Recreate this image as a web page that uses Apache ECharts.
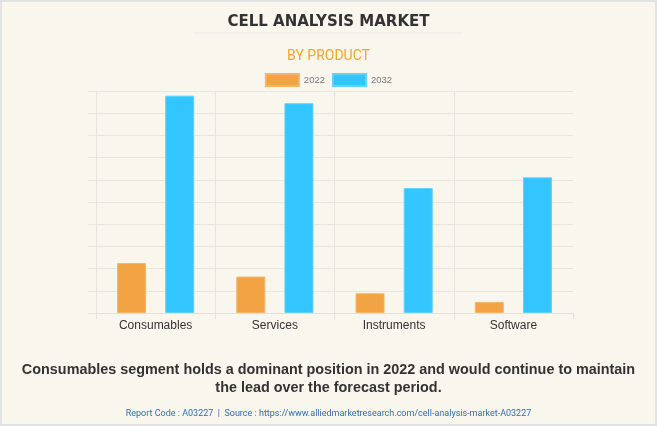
<!DOCTYPE html>
<html><head><meta charset="utf-8">
<script src="https://cdn.jsdelivr.net/npm/echarts@6/dist/echarts.min.js"></script>
<style>html,body{margin:0;padding:0;background:#F9F6EE;}#c{width:657px;height:426px;}</style>
</head><body><div id="c"></div>
<script>
var categories = ['Consumables', 'Services', 'Instruments', 'Software'];
var seriesNames = ['2022', '2032'];
var values2022 = [2.25, 1.64, 0.89, 0.50];
var values2032 = [9.79, 9.45, 5.63, 6.11];
var titleText = 'CELL ANALYSIS MARKET';
var subtitleText = 'BY PRODUCT';
var captionLines = ['Consumables segment holds a dominant position in 2022 and would continue to maintain', 'the lead over the forecast period.'];
var footerText = 'Report Code : A03227  |  Source : https://www.alliedmarketresearch.com/cell-analysis-market-A03227';

var chart = echarts.init(document.getElementById('c'), null, {renderer: 'canvas'});
chart.setOption({
  backgroundColor: '#F9F6EE',
  animation: false,
  title: [
    {text: titleText, left: 'center', top: 10, textStyle: {fontFamily: 'DejaVu Sans', fontWeight: 'bold', fontSize: 15, color: '#333'}},
    {text: subtitleText, left: 'center', top: 44, textStyle: {fontFamily: 'Roboto', fontWeight: 'normal', fontSize: 14, color: '#F5A623'}},
    {text: captionLines.join('\n'), left: 'center', top: 356, textStyle: {fontFamily: 'Liberation Sans', fontWeight: 'bold', fontSize: 14.4, lineHeight: 18, color: '#333', align: 'center'}},
    {text: footerText, left: 'center', top: 404, textStyle: {fontFamily: 'Roboto', fontWeight: 'normal', fontSize: 9, color: '#2F6DB5'}}
  ],
  legend: {
    data: seriesNames, top: 68, left: 'center', itemWidth: 33, itemHeight: 12, itemGap: 7, icon: 'rect',
    textStyle: {fontFamily: 'Liberation Sans', fontSize: 9.5, color: '#777'}
  },
  graphic: [
    {type: 'rect', shape: {x: 1, y: 1, width: 655, height: 424}, style: {fill: 'none', stroke: '#E2E2E2', lineWidth: 2}, silent: true},
    {type: 'line', shape: {x1: 193, y1: 33, x2: 463, y2: 33}, style: {stroke: '#ECE9E2', lineWidth: 1}, silent: true}
  ],
  grid: {left: 96, right: 84, top: 91, bottom: 113, containLabel: false},
  xAxis: {
    type: 'category', data: categories,
    axisLine: {show: true, lineStyle: {color: '#E3E0D9'}},
    axisTick: {show: true, length: 6, lineStyle: {color: '#E3E0D9'}},
    axisLabel: {fontFamily: 'Liberation Sans', fontSize: 12, color: '#333', margin: 7},
    splitLine: {show: true, showMaxLine: false, lineStyle: {color: '#E8E5DE'}}
  },
  yAxis: {
    type: 'value', min: 0, max: 10, interval: 1,
    axisLine: {show: false},
    axisTick: {show: true, length: 8, lineStyle: {color: '#E8E5DE'}},
    axisLabel: {show: false},
    splitLine: {show: true, lineStyle: {color: '#E8E5DE'}}
  },
  series: [
    {name: seriesNames[0], type: 'bar', data: values2022, barWidth: 29, barGap: '66%',
     itemStyle: {color: '#F2A445', borderColor: '#F5B566', borderWidth: 1}},
    {name: seriesNames[1], type: 'bar', data: values2032, barWidth: 29,
     itemStyle: {color: '#33C6FE', borderColor: '#5DD3FE', borderWidth: 1}}
  ]
});
</script></body></html>
